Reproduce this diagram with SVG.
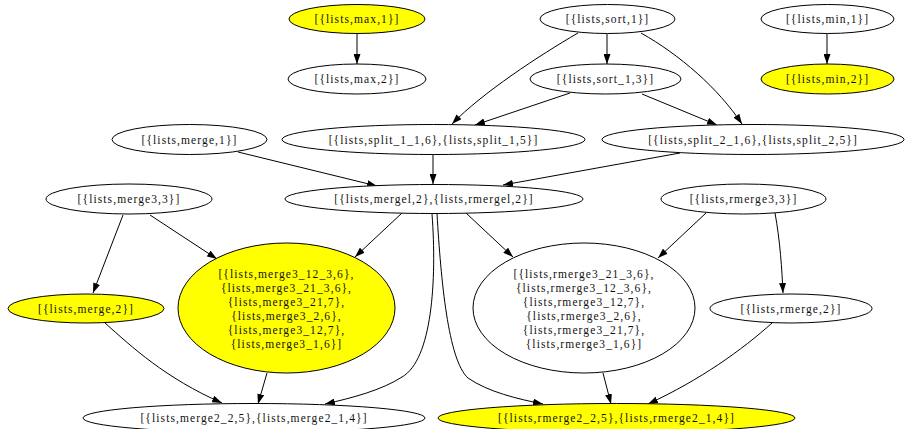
<svg xmlns="http://www.w3.org/2000/svg" width="906" height="429" viewBox="0 0 906 429">
  <defs>
    <marker id="arrow" viewBox="0 0 10 7" refX="10" refY="3.5" markerWidth="10" markerHeight="7" orient="auto" markerUnits="userSpaceOnUse">
      <path d="M0,0 L10,3.5 L0,7 z" fill="#000"/>
    </marker>
    <style>
      .node ellipse { fill: #fff; stroke: #000; stroke-width: 1; }
      .node.hl ellipse { fill: #ffff00; }
      .node text { font-family: "Liberation Serif", "Times New Roman", serif; font-size: 11.5px; letter-spacing: 1.1px; text-anchor: middle; fill: #111; }
      #edges path { fill: none; stroke: #000; stroke-width: 1; marker-end: url(#arrow); }
    </style>
  </defs>
  <rect width="906" height="429" fill="#fff"/>

  <g id="edges">
    <path d="M357,34 L357,64"/>
    <path d="M827,34 L827,64"/>
    <path d="M607,34 L607,64"/>
    <path d="M578,33 C540,55 482,93 452,124"/>
    <path d="M570,93 L475,125"/>
    <path d="M641,33 C680,55 718,88 742,124"/>
    <path d="M642,94 L717,125"/>
    <path d="M433,154 L433,184"/>
    <path d="M238,152 L377,186"/>
    <path d="M680,153 L503,185"/>
    <path d="M123,215 L93,293"/>
    <path d="M150,215 L217,259"/>
    <path d="M402,213 L355,257"/>
    <path d="M432,214 C437,280 432,360 402,377 C382,390 352,398 325,404"/>
    <path d="M437,214 C441,280 448,360 468,378 C488,392 518,399 543,404"/>
    <path d="M466,213 L513,257"/>
    <path d="M706,213 L658,258"/>
    <path d="M775,213 C780,240 782,270 783,293"/>
    <path d="M105,323 C132,347 165,378 222,403"/>
    <path d="M267,373 L258,404"/>
    <path d="M603,373 L611,404"/>
    <path d="M772,323 C742,350 700,380 648,404"/>
  </g>

  <g id="n_max1" class="node hl"><ellipse cx="357" cy="19" rx="68" ry="14.5"/><text x="357" y="23">[{lists,max,1}]</text></g>
  <g id="n_max2" class="node"><ellipse cx="357" cy="79" rx="69" ry="15"/><text x="357" y="83">[{lists,max,2}]</text></g>
  <g id="n_sort1" class="node"><ellipse cx="607.5" cy="19" rx="67.5" ry="14.5"/><text x="607.5" y="23">[{lists,sort,1}]</text></g>
  <g id="n_sort13" class="node"><ellipse cx="605.5" cy="79" rx="75.5" ry="15"/><text x="605.5" y="83">[{lists,sort_1,3}]</text></g>
  <g id="n_min1" class="node"><ellipse cx="827.5" cy="19" rx="66.5" ry="14.5"/><text x="827.5" y="23">[{lists,min,1}]</text></g>
  <g id="n_min2" class="node hl"><ellipse cx="827.5" cy="79" rx="66.5" ry="15"/><text x="827.5" y="83">[{lists,min,2}]</text></g>
  <g id="n_split1" class="node"><ellipse cx="433.5" cy="139.5" rx="151.5" ry="15"/><text x="433.5" y="143.5">[{lists,split_1_1,6},{lists,split_1,5}]</text></g>
  <g id="n_split2" class="node"><ellipse cx="753" cy="139.5" rx="151" ry="15"/><text x="753" y="143.5">[{lists,split_2_1,6},{lists,split_2,5}]</text></g>
  <g id="n_merge1" class="node"><ellipse cx="189.5" cy="139.5" rx="77.5" ry="15"/><text x="189.5" y="143.5">[{lists,merge,1}]</text></g>
  <g id="n_merge33" class="node"><ellipse cx="129" cy="199" rx="83" ry="15"/><text x="129" y="203">[{lists,merge3,3}]</text></g>
  <g id="n_mergel2" class="node"><ellipse cx="434" cy="199" rx="149" ry="14.5"/><text x="434" y="203">[{lists,mergel,2},{lists,rmergel,2}]</text></g>
  <g id="n_rmerge33" class="node"><ellipse cx="743.5" cy="199" rx="82.5" ry="15"/><text x="743.5" y="203">[{lists,rmerge3,3}]</text></g>
  <g id="n_merge3set" class="node hl">
    <ellipse cx="286.5" cy="308" rx="108.5" ry="65"/>
    <text x="286.5" y="278">[{lists,merge3_12_3,6},</text>
    <text x="286.5" y="292">{lists,merge3_21_3,6},</text>
    <text x="286.5" y="306">{lists,merge3_21,7},</text>
    <text x="286.5" y="320">{lists,merge3_2,6},</text>
    <text x="286.5" y="334">{lists,merge3_12,7},</text>
    <text x="286.5" y="348">{lists,merge3_1,6}]</text>
  </g>
  <g id="n_rmerge3set" class="node">
    <ellipse cx="584" cy="308" rx="111" ry="65"/>
    <text x="584" y="278">[{lists,rmerge3_21_3,6},</text>
    <text x="584" y="292">{lists,rmerge3_12_3,6},</text>
    <text x="584" y="306">{lists,rmerge3_12,7},</text>
    <text x="584" y="320">{lists,rmerge3_2,6},</text>
    <text x="584" y="334">{lists,rmerge3_21,7},</text>
    <text x="584" y="348">{lists,rmerge3_1,6}]</text>
  </g>
  <g id="n_merge2" class="node hl"><ellipse cx="86" cy="308.5" rx="78" ry="14.5"/><text x="86" y="312.5">[{lists,merge,2}]</text></g>
  <g id="n_rmerge2" class="node"><ellipse cx="791" cy="308.5" rx="81" ry="14.5"/><text x="791" y="312.5">[{lists,rmerge,2}]</text></g>
  <g id="n_merge2set" class="node"><ellipse cx="254" cy="418" rx="171" ry="14.5"/><text x="254" y="422">[{lists,merge2_2,5},{lists,merge2_1,4}]</text></g>
  <g id="n_rmerge2set" class="node hl"><ellipse cx="616.5" cy="418" rx="178.5" ry="14.5"/><text x="616.5" y="422">[{lists,rmerge2_2,5},{lists,rmerge2_1,4}]</text></g>
</svg>
